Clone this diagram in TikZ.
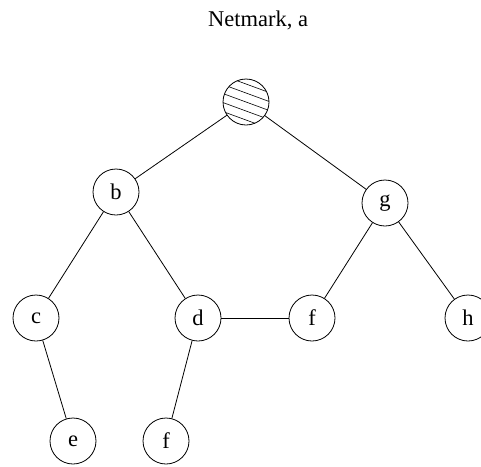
\documentclass[tikz,border=0pt]{standalone}
\usepackage{fontspec}
\setmainfont{Liberation Serif}
\usetikzlibrary{positioning}

\begin{document}
\begin{tikzpicture}[x=1pt,y=-1pt,line width=0.8pt,
		vertex/.style={draw,circle,minimum size=46pt,inner sep=0pt,font=\fontsize{22.5}{27}\selectfont}]
		\useasboundingbox (0,0) rectangle (481,466);
		\node [vertex] (a) at (246,102) {};
		\node [font=\fontsize{22.5}{27}\selectfont] (title) at (258,20) {Netmark, a};
		\node [vertex] (b) at (116,192) {b};
		\node [vertex] (g) at (385,203) {g};
		\node [vertex] (c) at (36,318) {c};
		\node [vertex] (d) at (198,318) {d};
		\node [vertex] (fr) at (312,318) {f};
		\node [vertex] (h) at (468,318) {h};
		\node [vertex] (e) at (73,441) {e};
		\node [vertex] (fl) at (166,441) {f};
		% hatching of the root
		\begin{scope}
		\clip (a.center) circle (23);
		\foreach \k in {-36,-27,...,36}
			\draw [line width=0.6pt] ([shift={(-30,\k-11)}]a.center) -- ++(60,22);
		\end{scope}
		\draw (a) -- (b);
		\draw (a) -- (g);
		\draw (b) -- (c);
		\draw (b) -- (d);
		\draw (g) -- (fr);
		\draw (g) -- (h);
		\draw (c) -- (e);
		\draw (d) -- (fl);
		\draw (d) -- (fr);
\end{tikzpicture}
\end{document}
